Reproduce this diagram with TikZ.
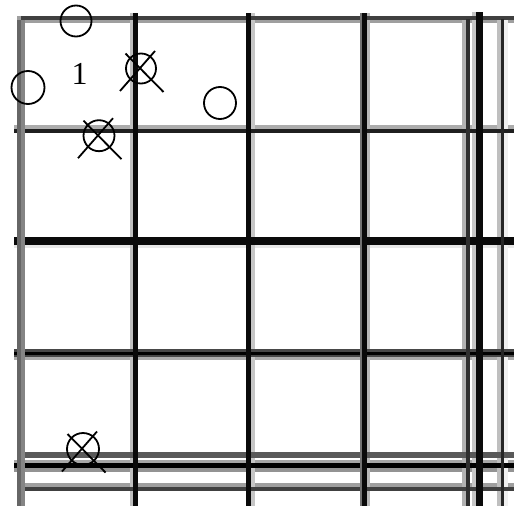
\documentclass[tikz,border=0pt]{standalone}
\usepackage{fontspec}
\setmainfont{Liberation Serif}
\begin{document}
\begin{tikzpicture}[x=1pt,y=-1pt,
  ring/.style={draw=black,circle,line width=1.8pt,inner sep=0pt,minimum width=31pt},
  crossline/.style={line width=1.8pt},
  lbl/.style={font=\fontsize{32}{32}\selectfont,inner sep=0pt}]
\useasboundingbox (0,0) rectangle (514,506);
\fill[white] (0,0) rectangle (514,506);
% ---------- light bands ----------
% horizontal
\fill[gray!75!white] (21,20) rectangle (514,23);
\fill[gray!65!white] (14,125) rectangle (514,129);
\fill[gray!18!white] (14,245) rectangle (514,248);
\fill[gray!65!white] (14,356.5) rectangle (514,359.5);
\fill[gray!70!white] (14,460) rectangle (514,463);
\fill[gray!85!white] (14,468) rectangle (514,472);
\fill[gray!75!white] (21,483) rectangle (514,487);
% vertical
\fill[gray!50!white] (130,13) rectangle (133,506);
\fill[gray!45!white] (251,13) rectangle (255,506);
\fill[gray!55!white] (367,13) rectangle (369.5,506);
\fill[gray!60!white] (462,19) rectangle (466,506);
\fill[gray!45!white] (472,12) rectangle (476,506);
\fill[gray!50!white] (497,19) rectangle (501,506);
\fill[gray!12!white] (504,19) rectangle (508,506);
% ---------- dark bands ----------
% horizontal
\fill[black!75] (21,16) rectangle (514,20);
\fill[black!88] (14,129) rectangle (514,133);
\fill[black!96] (14,237) rectangle (514,245);
\fill[black!72] (14,349) rectangle (514,356.5);
\fill[black] (14,351.5) rectangle (514,354.5);
\fill[black!65] (21,452) rectangle (514,458);
\fill[black] (14,463) rectangle (514,468);
\fill[black!75] (21,487) rectangle (514,491);
% vertical
\fill[black!60] (17,16) rectangle (21,506);
\fill[black!48] (21,20) rectangle (25,506);
\fill[gray!75!white] (17,16) rectangle (21,20);
\fill[black!96] (133,13) rectangle (138,506);
\fill[black!96] (245.5,13) rectangle (251,506);
\fill[black!55] (359.5,13) rectangle (362,506);
\fill[black!96] (362,13) rectangle (367,506);
\fill[black!82] (466,19) rectangle (470,506);
\fill[black!96] (476,12) rectangle (483,506);
\fill[black!85] (501,19) rectangle (504,506);
% ---------- marks ----------
\node[ring,minimum height=28pt] (o1) at (76,21) {};
\node[ring,minimum height=31pt,minimum width=33pt] (o2) at (28,87.5) {};
\node[ring,minimum height=31pt,minimum width=32pt] (o3) at (220,103) {};
\node[lbl] (n1) at (79.5,74.2) {1};
\node[ring,minimum height=28pt,minimum width=30pt] (x1) at (141,68.5) {};
\node[ring,minimum height=30pt] (x2) at (99,135.7) {};
\node[ring,minimum height=32pt,minimum width=32pt] (x3) at (83,449) {};
\foreach \c in {x1,x2,x3}{
  \draw[crossline] ([shift={(-21,22.5)}]\c.center) -- ([shift={(14,-17.5)}]\c.center);
  \draw[crossline] ([shift={(-15.5,-15)}]\c.center) -- ([shift={(22.5,23.5)}]\c.center);
}
\end{tikzpicture}
\end{document}
